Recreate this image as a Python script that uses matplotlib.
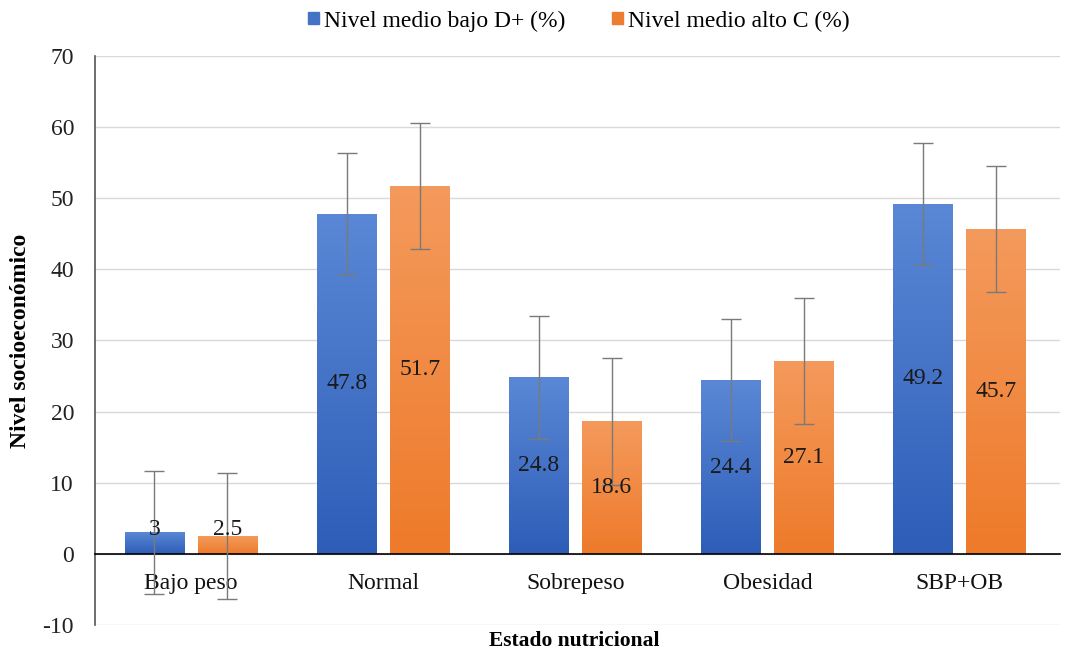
import matplotlib
matplotlib.use("Agg")
import matplotlib.pyplot as plt
import numpy as np
from matplotlib.colors import LinearSegmentedColormap
from matplotlib.patches import Patch

categories = ["Bajo peso", "Normal", "Sobrepeso", "Obesidad", "SBP+OB"]
serie_d = [3, 47.8, 24.8, 24.4, 49.2]
serie_c = [2.5, 51.7, 18.6, 27.1, 45.7]
err_d = [8.6, 8.6, 8.6, 8.6, 8.6]
err_c = [8.9, 8.9, 8.9, 8.9, 8.9]
labels_legend = ["Nivel medio bajo D+ (%)", "Nivel medio alto C (%)"]
yticks = [-10, 0, 10, 20, 30, 40, 50, 60, 70]

plt.rcParams['font.family'] = ['Liberation Serif', 'DejaVu Serif']
plt.rcParams['axes.unicode_minus'] = False

fig = plt.figure(figsize=(10.66, 6.55), dpi=100)
ax = fig.add_axes([0.089, 0.046, 0.905, 0.8685])

x = np.arange(len(categories))
w = 0.31
off = 0.19

cmap_b = LinearSegmentedColormap.from_list("b", ["#2D5DB7", "#5A88D6"])
cmap_o = LinearSegmentedColormap.from_list("o", ["#EE7A2A", "#F49A5C"])

def grad_bars(xs, vals, cmap, color):
    bars = ax.bar(xs, vals, w, color=color, zorder=2)
    grad = np.linspace(0, 1, 256).reshape(-1, 1)
    for b in bars:
        x0, y0 = b.get_x(), b.get_y()
        x1, y1 = x0 + b.get_width(), y0 + b.get_height()
        im = ax.imshow(grad, extent=[x0, x1, y0, y1], origin='lower',
                       aspect='auto', cmap=cmap, zorder=2.1)
        im.set_clip_path(b)
    return bars

bd = grad_bars(x - off, serie_d, cmap_b, "#4472C4")
bc = grad_bars(x + off, serie_c, cmap_o, "#ED7D31")

ax.errorbar(x - off, serie_d, yerr=err_d, fmt='none', ecolor='#7A7A7A',
            elinewidth=1.0, capsize=7, capthick=1.0, zorder=3)
ax.errorbar(x + off, serie_c, yerr=err_c, fmt='none', ecolor='#7A7A7A',
            elinewidth=1.0, capsize=7, capthick=1.0, zorder=3)

for xs, vals in ((x - off, serie_d), (x + off, serie_c)):
    for xi, v in zip(xs, vals):
        ax.text(xi, max(v / 2, 3.4), f"{v:g}", ha='center', va='center',
                fontsize=17, color='#1a1a1a', zorder=4)

ax.set_xlim(-0.5, 4.52)
ax.set_ylim(-10, 70)
ax.set_yticks(yticks)
ax.tick_params(axis='y', length=0, labelsize=17, pad=15, colors='#222222')
ax.tick_params(axis='x', length=0, labelsize=17, pad=14, colors='#111111')
ax.set_xticks(x)
ax.set_xticklabels(categories)
ax.grid(axis='y', color='#D9D9D9', linewidth=1, zorder=0)
ax.set_axisbelow(True)

ax.spines['top'].set_visible(False)
ax.spines['right'].set_visible(False)
ax.spines['bottom'].set_position(('data', 0))
ax.spines['bottom'].set_color('black')
ax.spines['bottom'].set_linewidth(1.2)
ax.spines['left'].set_color('#555555')
ax.spines['left'].set_linewidth(1.2)

ax.set_ylabel("Nivel socioeconómico", fontsize=17, fontweight='bold')
ax.yaxis.set_label_coords(-0.066, 0.5)
fig.text(0.539, 0.022, "Estado nutricional", ha='center', va='center',
         fontsize=15.5, fontweight='bold')

handles = [Patch(color="#4472C4"), Patch(color="#ED7D31")]
fig.legend(handles, labels_legend, loc='center', bbox_to_anchor=(0.543, 0.968),
           ncol=2, frameon=False, fontsize=17, handlelength=0.45, handleheight=0.45,
           handletextpad=0.2, columnspacing=2.0)

fig.savefig("out.png", dpi=100)
